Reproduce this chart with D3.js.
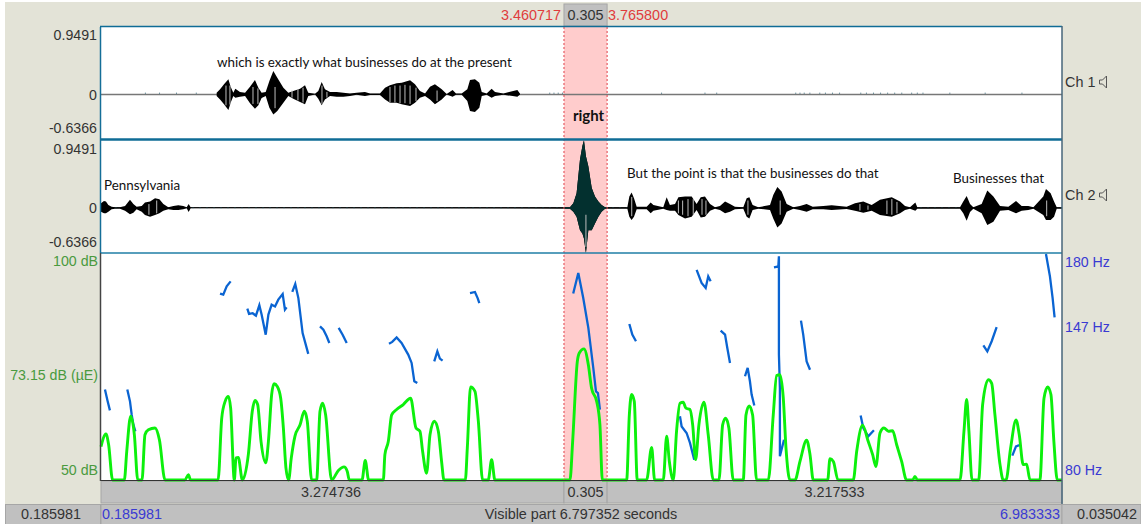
<!DOCTYPE html>
<html lang="en">
<head>
<meta charset="UTF-8">
<title>Stereo waveform with pitch and intensity</title>
<script src="https://d3js.org/d3.v7.min.js"></script>
<style>
    body { margin: 0; background: white; }
    svg { display: block; }
    text { font-family: "Liberation Sans", Arial, sans-serif; font-size: 14.4px; }
    .note { font-family: Lato, "Open Sans", sans-serif; font-size: 13.4px; fill: #111; }
    .axis path, .axis line { display: none; }
    .axis text { font-family: "Liberation Sans", Arial, sans-serif; font-size: 14.2px; }
</style>
</head>
<body>
<svg id="chart" width="1141" height="524"></svg>
<script>
// time span and selection, seconds
const visibleStart = 0.185981;
const visibleEnd = 6.983333;
const selectionStart = 3.460717;
const selectionEnd = 3.7658;

const ampTicks = [0.9491, 0, -0.6366];
const dbTicks = [100, 73.15, 50];
const hzTicks = [180, 147, 80];

// waveform envelopes: [seconds, above zero, below zero]
const ch1Envelope = [
    [1.004,.019,.028],[1.028,.066,.076],[1.056,.137,.146],[1.087,.208,.227],[1.103,.104,.123],[1.122,.019,.028],
    [1.136,.076,.052],[1.169,.028,.038],[1.205,.019,.028],[1.24,.104,.132],[1.275,.198,.208],[1.299,.09,.16],
    [1.322,.019,.057],[1.351,.028,.028],[1.377,.184,.194],[1.405,.326,.288],[1.433,.231,.241],[1.476,.09,.123],
    [1.511,.019,.028],[1.546,.042,.066],[1.594,.076,.113],[1.629,.123,.146],[1.652,.019,.028],[1.7,.005,.005],
    [1.723,.042,.066],[1.747,.17,.16],[1.77,.066,.076],[1.806,.028,.028],[1.853,.028,.038],[1.9,.019,.038],
    [1.947,.009,.028],[1.994,.019,.009],[2.053,.028,.028],[2.089,.009,.014],[2.159,.009,.014],[2.195,.09,.076],
    [2.23,.123,.123],[2.277,.151,.123],[2.313,.16,.146],[2.372,.194,.17],[2.407,.137,.123],[2.442,.042,.052],
    [2.478,.009,.028],[2.513,.104,.076],[2.548,.137,.146],[2.596,.066,.076],[2.631,.002,.005],[2.673,.057,.038],
    [2.697,.009,.009],[2.737,.009,.009],[2.777,.066,.099],[2.796,.198,.241],[2.831,.208,.255],[2.862,.16,.194],
    [2.879,.028,.028],[2.914,.009,.009],[2.949,.076,.052],[2.973,.028,.028],[3.032,.009,.009],[3.131,.057,.038],
    [3.15,.005,.005]
];
const ch2Envelope = [
    [.186,.061,.057],[.207,.094,.08],[.221,.085,.08],[.238,.038,.057],[.261,.014,.024],[.285,.005,.014],[.32,.005,.014],
    [.356,.024,.042],[.391,.109,.094],[.415,.052,.071],[.438,.014,.024],[.474,.024,.057],[.497,.071,.104],[.533,.085,.127],
    [.568,.132,.104],[.599,.118,.08],[.627,.052,.042],[.662,.005,.024],[.698,.024,.033],[.733,.033,.033],[.768,.024,.024],
    [.792,.005,.009],[.806,.052,.061],[.82,.005,.009],[3.503,.005,.014],[3.527,.061,.057],[3.55,.203,.127],[3.574,.675,.316],
    [3.591,.864,.363],[3.602,.944,.434],[3.616,.722,.637],[3.633,.581,.316],[3.657,.274,.316],[3.68,.156,.222],[3.704,.085,.127],
    [3.727,.038,.057],[3.751,.005,.014],[3.909,.005,.014],[3.923,.156,.127],[3.939,.212,.175],[3.956,.132,.127],[3.975,.014,.024],
    [4.046,.014,.024],[4.074,.071,.08],[4.093,.038,.042],[4.163,.005,.014],[4.187,.146,.033],[4.21,.038,.042],[4.246,.052,.042],
    [4.27,.146,.104],[4.317,.156,.151],[4.364,.156,.127],[4.399,.052,.033],[4.428,.146,.137],[4.458,.156,.127],[4.494,.052,.042],
    [4.529,.005,.014],[4.564,.024,.033],[4.6,.085,.08],[4.635,.052,.057],[4.67,.014,.024],[4.729,.005,.014],[4.753,.132,.127],
    [4.772,.146,.151],[4.795,.038,.033],[4.835,.005,.014],[4.918,.038,.033],[4.941,.179,.151],[4.97,.288,.278],[5.0,.227,.222],
    [5.036,.052,.057],[5.083,.005,.014],[5.13,.024,.033],[5.177,.052,.057],[5.22,.014,.024],[5.295,.024,.024],[5.354,.033,.033],
    [5.46,.014,.019],[5.519,.061,.042],[5.578,.085,.071],[5.637,.038,.042],[5.696,.109,.104],[5.779,.146,.127],[5.838,.085,.08],
    [5.873,.024,.033],[5.908,.005,.014],[5.946,.071,.042],[5.96,.005,.014],[6.262,.005,.014],[6.285,.085,.08],[6.309,.165,.184],
    [6.333,.052,.061],[6.356,.005,.014],[6.415,.052,.08],[6.455,.241,.245],[6.498,.156,.198],[6.545,.024,.042],[6.604,.014,.033],
    [6.658,.094,.08],[6.698,.024,.042],[6.745,.024,.033],[6.781,.005,.014],[6.851,.156,.104],[6.87,.26,.175],[6.903,.203,.175],
    [6.927,.085,.127],[6.946,.005,.014],[6.983,.005,.014]
];

// pale stripes inside the bursts: [seconds, upper amp, lower amp]
const ch1Stripes = [[1.07,.12,-.16],[1.098,.12,-.15],[1.261,.1,-.14],[1.296,.08,-.14],[1.417,.1,-.2],[1.537,.05,-.05],[1.579,.07,-.09],[1.615,.09,-.12],[1.749,.12,-.14],[1.784,.03,-.05],[2.23,.1,-.12],[2.265,.12,-.12],[2.301,.12,-.13],[2.336,.13,-.13],[2.372,.12,-.14],[2.414,.09,-.1],[2.563,.05,-.1]];
const ch2Stripes = [[.525,.05,-.1],[.58,.1,-.08],[3.616,-.1,-.55],[3.94,.15,-.12],[4.27,.1,-.08],[4.3,.1,-.1],[4.338,.12,-.12],[4.375,.12,-.1],[4.437,.12,-.1],[4.465,.1,-.1],[4.762,.1,-.1],[4.99,.1,-.1],[5.554,.05,-.04],[5.611,.03,-.03],[5.745,.1,-.09],[5.78,.12,-.1],[5.816,.08,-.08],[6.875,.1,-.12]];

// small ripples on the ch1 zero line, seconds
const ch1Ripples = [.5,.6,.72,.86,3.36,3.39,3.42,3.45,4.151,4.458,4.541,5.1,5.13,5.16,5.2,5.27,5.31,5.36,5.41,5.56,5.6,5.65,5.7,5.75,5.8,5.85,5.92,5.96,6,6.19,6.44,6.7];

// intensity contour
const dbTime = [.186,.221,.24,.268,.351,.368,.396,.422,.446,.476,.497,.521,.568,.599,.639,.78,.804,.82,1.014,1.04,1.064,1.087,1.103,1.129,1.141,1.157,1.186,1.228,1.256,1.275,1.294,1.318,1.351,1.37,1.393,1.41,1.433,1.457,1.476,1.494,1.513,1.532,1.558,1.594,1.624,1.645,1.676,1.711,1.735,1.754,1.775,1.817,1.865,1.905,1.928,1.942,2.032,2.055,2.079,2.183,2.194,2.218,2.242,2.277,2.324,2.376,2.414,2.442,2.461,2.489,2.513,2.543,2.572,2.595,2.612,2.763,2.777,2.8,2.831,2.855,2.885,2.925,2.949,2.972,3.503,3.522,3.555,3.569,3.602,3.633,3.656,3.692,3.715,3.732,3.904,3.923,3.939,3.958,3.979,4.045,4.081,4.102,4.163,4.187,4.206,4.234,4.257,4.281,4.304,4.323,4.352,4.371,4.392,4.415,4.451,4.481,4.517,4.557,4.583,4.604,4.627,4.658,4.729,4.748,4.771,4.795,4.823,4.906,4.941,4.965,4.988,5.012,5.031,5.059,5.095,5.13,5.177,5.201,5.224,5.326,5.342,5.366,5.399,5.507,5.531,5.573,5.613,5.644,5.667,5.696,5.724,5.755,5.785,5.814,5.849,5.884,5.927,5.943,5.96,6.262,6.29,6.309,6.325,6.347,6.394,6.422,6.462,6.486,6.509,6.545,6.568,6.587,6.62,6.658,6.681,6.709,6.733,6.757,6.827,6.856,6.882,6.905,6.926,6.95,6.983];
const dbValue = [57.4,60.2,57.8,50,50,56.3,64.1,60,50,50,60,61.1,61.5,58.9,50,50,51.2,50,50,63.7,67.4,68.5,65.9,50,54.9,55,50,55.6,65.2,67.6,66.7,58.5,53.8,58.5,68.9,71.3,70.7,68.1,61.5,52.7,50,54.9,59.7,62.2,65.2,63,50,50,65.2,67,64.4,50,52.1,52.9,51.9,50,50,54.3,50,50,55.6,58.5,64.4,65.6,66.7,68.1,61.5,60.8,56.3,51.5,60,63,60.8,54.1,50,50,57.1,70.6,69.6,63,50,50,54.5,50,50,58.5,76.2,78.1,79,75.5,70.3,67.4,62.2,50,50,64.4,68.9,67.4,50,50,57.2,50,50,59.7,54.1,50,60.8,67,67.2,65.9,65.6,62.2,54.5,62.2,67.2,60,50,50,62.2,63.7,61.5,50,50,64.4,66.4,64.4,50,50,64.4,73.1,73.3,68.1,57.1,50,50,54.1,58.8,55.6,50,50,54.7,54.1,50,50,56.3,62.1,58.5,55.6,53,60.4,61.5,60.8,60.9,57.8,54.1,50,50,50.8,50,50,60.8,67.8,60.8,50,50,66.7,72.2,71.4,64.4,53.4,50,50,57.1,63.3,60,53.4,53.5,50,50,68.1,70.6,68.9,58.5,50,50];

// pitch tracks: [seconds, Hz]
const pitchTracks = [
    [[.214,120],[.233,114.8],[.249,110.8]],
    [[.372,120],[.391,114.8],[.403,108.9],[.415,104.5],[.429,101.5]],
    [[1.028,162.5],[1.051,162],[1.075,165.7],[1.103,167.9]],
    [[1.221,155.8],[1.233,153.5],[1.259,153.8],[1.282,152.7],[1.306,157.3],[1.322,153.2],[1.351,144.3],[1.37,153.2],[1.393,157.6],[1.417,156.8],[1.44,159.8],[1.471,162.3],[1.487,155.4],[1.499,156.4]],
    [[1.539,163.2],[1.56,166.7],[1.582,160.5],[1.612,145],[1.652,135.8]],
    [[1.735,148],[1.759,146.5],[1.782,143.6],[1.801,140.6]],
    [[1.867,147.3],[1.895,144.3],[1.924,140.6]],
    [[2.223,140.3],[2.246,141.1],[2.277,143.1],[2.312,140.6],[2.359,135.5],[2.383,131.8],[2.402,123.7],[2.423,122.9]],
    [[2.543,132.5],[2.565,136.9],[2.583,133.7],[2.602,132.8]],
    [[2.796,162.7],[2.831,163.2],[2.85,160.5],[2.862,158.3]],
    [[3.526,162.5],[3.562,171.6],[3.597,160.5],[3.633,147.3],[3.668,129.6],[3.687,119.2],[3.701,118.5],[3.715,111.1]],
    [[3.923,149],[3.944,144.3],[3.97,141.4]],
    [[4.281,108.2],[4.293,103.7],[4.328,100.8],[4.352,96.4],[4.382,89]],
    [[4.399,173],[4.434,167.2],[4.463,165],[4.481,170.1],[4.498,167.9]],
    [[4.569,146.1],[4.6,144.3],[4.616,138.4],[4.635,131.8]],
    [[4.741,125.9],[4.76,129.6],[4.776,123.7],[4.788,117.8],[4.807,113]],
    [[4.946,174.1],[4.977,174.5],[4.981,179],[4.981,135.5],[4.988,120.7],[4.988,90.5],[5.017,97.8]],
    [[5.137,150.5],[5.153,144.3],[5.177,132.5],[5.201,128.8]],
    [[5.559,108.5],[5.578,103],[5.613,99.3],[5.653,102]],
    [[6.427,139.6],[6.455,136.9],[6.486,141.4],[6.521,147.6]],
    [[6.632,90.8],[6.658,94.9],[6.691,95.6]],
    [[6.87,180],[6.898,170.1],[6.917,160.5],[6.931,152]]
];

const notes = [
    { text: "which is exactly what businesses do at the present", t: 1.006, y: 67 },
    { text: "Pennsylvania", t: 0.207, y: 190 },
    { text: "But the point is that the businesses do that", t: 3.906, y: 178 },
    { text: "Businesses that", t: 6.212, y: 183 }
];

const svg = d3.select("#chart");
const left = 101, right = 1062;

const x = d3.scaleLinear().domain([visibleStart, visibleEnd]).range([left, right]);
const ch1Y = d3.scaleLinear().domain([-0.6366, 0.9491]).range([139, 27]);
const ch2Y = d3.scaleLinear().domain([-0.6366, 0.9491]).range([253, 140]);
const dbY = d3.scaleLinear().domain([50, 100]).range([480, 254]);
const hzY = d3.scaleLinear().domain([80, 180]).range([480, 254]);

const selX0 = x(selectionStart), selX1 = x(selectionEnd);

// window background and panels
svg.append("rect").attr("x", 5).attr("y", 2).attr("width", 1136).attr("height", 522).attr("fill", "#e3e3d7");
svg.append("rect").attr("x", left).attr("y", 27).attr("width", right - left).attr("height", 453).attr("fill", "white");
svg.append("rect").attr("x", selX0).attr("y", 27).attr("width", selX1 - selX0).attr("height", 453).attr("fill", "#ffcccc");

// bottom bars
function bar(x0, y0, w, h) {
    svg.append("rect").attr("x", x0).attr("y", y0).attr("width", w).attr("height", h)
        .attr("fill", "#c0c0c0").attr("stroke", "#a6a6a6").attr("stroke-width", 1);
}
bar(left, 481, selX0 - left, 22);
bar(selX0, 481, selX1 - selX0, 22);
bar(selX1, 481, right - selX1, 22);
bar(5.5, 504.5, left - 6, 20);
bar(left, 504.5, right - left, 20);
bar(right, 504.5, 1141 - right, 20);
bar(selX0, 4, selX1 - selX0, 22);

// waveforms
function envelopeArea(y) {
    return d3.area().x(d => x(d[0])).y0(d => y(-d[2])).y1(d => y(d[1]));
}

svg.append("line").attr("x1", left).attr("x2", right).attr("y1", ch1Y(0) + 0.5).attr("y2", ch1Y(0) + 0.5)
    .attr("stroke", "#777").attr("stroke-width", 1.4);
svg.append("line").attr("x1", left).attr("x2", right).attr("y1", ch2Y(0)).attr("y2", ch2Y(0))
    .attr("stroke", "#333").attr("stroke-width", 1);
svg.append("line").attr("x1", left).attr("x2", right).attr("y1", ch2Y(0)).attr("y2", ch2Y(0))
    .attr("stroke", "#5aa5b5").attr("stroke-width", 1).attr("stroke-dasharray", "2,5");

svg.selectAll(".ripple").data(ch1Ripples).enter().append("line").attr("class", "ripple")
    .attr("x1", d => x(d)).attr("x2", d => x(d)).attr("y1", ch1Y(0.02)).attr("y2", ch1Y(0))
    .attr("stroke", "#6d8f9b");

svg.append("path").datum(ch1Envelope).attr("d", envelopeArea(ch1Y)).attr("fill", "black");
svg.append("path").datum(ch2Envelope).attr("d", envelopeArea(ch2Y)).attr("fill", "black");

svg.append("clipPath").attr("id", "sel").append("rect")
    .attr("x", selX0).attr("y", 27).attr("width", selX1 - selX0).attr("height", 453);
svg.append("path").datum(ch2Envelope).attr("d", envelopeArea(ch2Y)).attr("fill", "#03302f").attr("clip-path", "url(#sel)");

function stripes(data, y) {
    svg.append("g").selectAll("line").data(data).enter().append("line")
        .attr("x1", d => x(d[0])).attr("x2", d => x(d[0]))
        .attr("y1", d => y(d[1])).attr("y2", d => y(d[2]))
        .attr("stroke", "#bdbdbd").attr("stroke-width", 1);
}
stripes(ch1Stripes, ch1Y);
stripes(ch2Stripes, ch2Y);

// pitch and intensity
const pitchLine = d3.line().x(d => x(d[0])).y(d => hzY(d[1]));
svg.append("g").selectAll("path").data(pitchTracks).enter().append("path")
    .attr("d", pitchLine).attr("fill", "none").attr("stroke", "#0a64d2").attr("stroke-width", 2.3);

const dbLine = d3.line().x((d, i) => x(d)).y((d, i) => dbY(dbValue[i])).curve(d3.curveMonotoneX);
svg.append("path").datum(dbTime).attr("d", dbLine).attr("fill", "none")
    .attr("stroke", "#0cf00c").attr("stroke-width", 2.9).attr("stroke-linejoin", "round");

// selection edges
[selX0, selX1].forEach(px => {
    svg.append("line").attr("x1", px).attr("x2", px).attr("y1", 27).attr("y2", 480)
        .attr("stroke", "#e0404a").attr("stroke-dasharray", "2,2");
});

// frame
function hline(y, color, w) {
    svg.append("line").attr("x1", left - 1).attr("x2", right).attr("y1", y).attr("y2", y).attr("stroke", color).attr("stroke-width", w);
}
hline(26.5, "#0f6c96", 1.5);
hline(139.5, "#0f6c96", 2.5);
hline(253, "#1f7ea6", 1.5);
hline(480.5, "#333", 1);
[[27, 253, "#146e98"], [253, 481, "#444"]].forEach(seg => {
    svg.append("line").attr("x1", left - 0.5).attr("x2", left - 0.5).attr("y1", seg[0]).attr("y2", seg[1]).attr("stroke", seg[2]).attr("stroke-width", 1.5);
});
svg.append("line").attr("x1", right).attr("x2", right).attr("y1", 26).attr("y2", 504).attr("stroke", "#47667a").attr("stroke-width", 1.5);

// axes, extreme labels pulled into the panel
function placeAxis(gen, y, xPos, color, nudges) {
    const g = svg.append("g").attr("class", "axis").attr("transform", `translate(${xPos},0)`).call(gen);
    g.selectAll("text").attr("fill", color).attr("dy", "0.35em")
        .attr("transform", (d, i) => `translate(0,${nudges[i]})`);
    g.select(".domain").remove();
    return g;
}
const ampFmt = d => d === 0 ? "0" : d3.format(".4f")(d).replace("\u2212", "-");
const ampAxis = y => d3.axisLeft(y).tickValues(ampTicks).tickSize(0).tickPadding(0).tickFormat(ampFmt);
placeAxis(ampAxis(ch1Y), ch1Y, 97, "#333", [8, 0, -11]);
placeAxis(ampAxis(ch2Y), ch2Y, 97, "#333", [9, 0, -11]);
placeAxis(d3.axisLeft(dbY).tickValues(dbTicks).tickSize(0).tickPadding(0)
    .tickFormat(d => d === 73.15 ? "73.15 dB (\u00b5E)" : d + " dB"), dbY, 98, "#4a9a3e", [7, -1, -10]);
placeAxis(d3.axisRight(hzY).tickValues(hzTicks).tickSize(0).tickPadding(0)
    .tickFormat(d => d + " Hz"), hzY, 1065, "#3a3ad2", [8, -2, -10]);

// text on the bars
function label(str, px, py, color, anchor) {
    return svg.append("text").attr("x", px).attr("y", py).attr("fill", color)
        .attr("text-anchor", anchor || "middle").attr("dy", "0.35em").text(str);
}
const fmt6 = d3.format(".6f");
label(fmt6(selectionStart), selX0 - 3, 15, "#e03c3c", "end");
label(d3.format(".3f")(selectionEnd - selectionStart), (selX0 + selX1) / 2, 15, "#333");
label(fmt6(selectionEnd), selX1 + 1, 15, "#e03c3c", "start");
label(fmt6(selectionStart - visibleStart), (left + selX0) / 2 - 1.5, 492, "#333");
label(d3.format(".3f")(selectionEnd - selectionStart), (selX0 + selX1) / 2, 492, "#333");
label(fmt6(visibleEnd - selectionEnd), (selX1 + right) / 2, 492, "#333");
label(fmt6(visibleStart), 51, 513.5, "#333");
label(fmt6(visibleStart), 102, 513.5, "#3a3ad2", "start");
label(`Visible part ${fmt6(visibleEnd - visibleStart)} seconds`, 581, 513.5, "#333");
label(fmt6(visibleEnd), 1060, 513.5, "#3a3ad2", "end");
label("0.035042", 1107, 513.5, "#333");

// channel names with speaker icons
[["Ch 1", 82], ["Ch 2", 195]].forEach(c => {
    label(c[0], 1065, c[1], "#333", "start");
    svg.append("path")
        .attr("d", `M1099.5 ${c[1] - 2}h3l4 -4v12l-4 -4h-3z`)
        .attr("fill", "none").attr("stroke", "#555");
});

// transcript notes
svg.append("g").selectAll("text").data(notes).enter().append("text")
    .attr("class", "note").attr("x", d => x(d.t)).attr("y", d => d.y).text(d => d.text);
svg.append("text").attr("class", "note").attr("x", (selX0 + selX1) / 2 + 3).attr("y", 121)
    .attr("text-anchor", "middle").style("font-weight", "bold").style("font-size", "15px").text("right");
</script>
</body>
</html>
